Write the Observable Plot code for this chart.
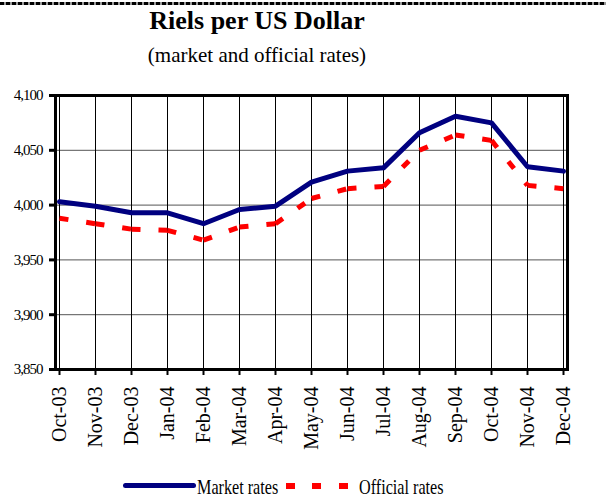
<!DOCTYPE html>
<html>
<head>
<meta charset="utf-8">
<script src="https://cdn.jsdelivr.net/npm/d3@7"></script>
<script src="https://cdn.jsdelivr.net/npm/@observablehq/plot@0.6"></script>
<style>
  html, body { margin: 0; padding: 0; background: #fff; width: 606px; height: 504px; overflow: hidden; }
  body { position: relative; font-family: "Liberation Serif", "DejaVu Serif", serif; color: #000; }
  .abs { position: absolute; white-space: nowrap; }
  #chart text { font-family: "Liberation Serif", serif; }
  #chart g[aria-label="y-axis tick label"] text { letter-spacing: -1px; }
  .leg { font-size: 21px; line-height: 21px; transform: scaleX(0.77); transform-origin: 0 50%; }
</style>
</head>
<body>
<div class="abs" style="left:0;top:2px;width:606px;height:3px;background:repeating-linear-gradient(90deg,#000 0 4px,#999 4px 6px);"></div>
<div class="abs" id="title" style="left:0;top:7px;width:514px;text-align:center;font-weight:bold;font-size:26px;line-height:28px;"></div>
<div class="abs" id="subtitle" style="left:0;top:43px;width:514px;text-align:center;font-size:21px;line-height:24px;"></div>
<div class="abs" id="chart" style="left:0;top:80px;"></div>
<div class="abs" style="left:123px;top:483px;width:73px;height:5px;background:#000080;border-radius:3px;"></div>
<div class="abs leg" id="leg1" style="left:197px;top:477px;"></div>
<div class="abs" style="left:286px;top:483px;width:9px;height:6px;background:#ff0000;"></div>
<div class="abs" style="left:312px;top:483px;width:9px;height:6px;background:#ff0000;"></div>
<div class="abs" style="left:339px;top:483px;width:9px;height:6px;background:#ff0000;"></div>
<div class="abs leg" id="leg2" style="left:359px;top:477px;"></div>
<script>
const titleText = "Riels per US Dollar";
const subtitleText = "(market and official rates)";
const seriesNames = ["Market rates", "Official rates"];

const months = ["Oct-03", "Nov-03", "Dec-03", "Jan-04", "Feb-04", "Mar-04", "Apr-04",
  "May-04", "Jun-04", "Jul-04", "Aug-04", "Sep-04", "Oct-04", "Nov-04", "Dec-04"];
const market = [4003, 3999, 3993, 3993, 3983, 3996, 3999, 4021, 4031, 4034, 4066, 4081, 4075, 4035, 4031];
const official = [3988, 3983, 3978, 3977, 3968, 3980, 3983, 4006, 4015, 4017, 4050, 4064, 4059, 4018, 4015];
const yTicks = [3850, 3900, 3950, 4000, 4050, 4100];

document.getElementById("title").textContent = titleText;
document.getElementById("subtitle").textContent = subtitleText;
document.getElementById("leg1").textContent = seriesNames[0];
document.getElementById("leg2").textContent = seriesNames[1];

const marketData = months.map((m, i) => ({month: m, value: market[i]}));
const officialSegs = months.slice(1).map((m, i) => ({
  m1: months[i], v1: official[i], m2: m, v2: official[i + 1]
}));

const serif = "Liberation Serif";
const chart = Plot.plot({
  width: 606,
  height: 380,
  marginLeft: 55,
  marginRight: 39,
  marginTop: 15,
  marginBottom: 91,
  style: {fontFamily: "'Liberation Serif', serif", background: "transparent", color: "#000"},
  x: {type: "point", domain: months, padding: 0},
  y: {domain: [3850, 4100]},
  marks: [
    Plot.gridY(yTicks, {stroke: "#555", strokeOpacity: 1, strokeWidth: 1}),
    Plot.gridX(months, {stroke: "#000", strokeOpacity: 1, strokeWidth: 1}),
    Plot.frame({stroke: "#000", strokeWidth: 3}),
    Plot.axisY(yTicks, {tickFormat: d3.format(","), tickSize: 6, strokeWidth: 3, tickPadding: 7, fontSize: 15, fontFamily: serif, label: null}),
    Plot.axisX(months, {tickSize: 6, strokeWidth: 2, tickRotate: -90, tickPadding: 11, fontSize: 20, fontFamily: serif, label: null}),
    Plot.link(officialSegs, {x1: "m1", y1: "v1", x2: "m2", y2: "v2",
      stroke: "#ff0000", strokeWidth: 5, strokeDasharray: "9,18", strokeLinecap: "butt"}),
    Plot.line(marketData, {x: "month", y: "value", stroke: "#000080", strokeWidth: 5})
  ]
});
document.getElementById("chart").appendChild(chart);
</script>
</body>
</html>
